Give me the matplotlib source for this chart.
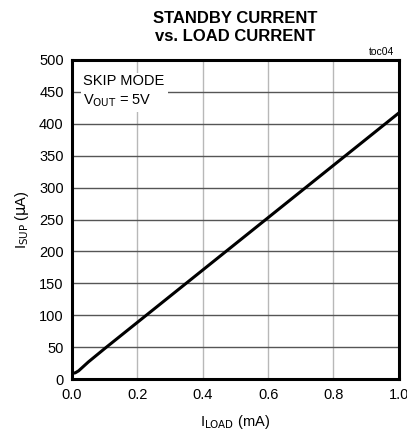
#!/usr/bin/env python3
"""Standby current vs. load current (skip mode)."""

import matplotlib
matplotlib.use("Agg")
import matplotlib.pyplot as plt

# load current (mA) and supply current (uA)
i_load = [0.0, 0.01, 0.02, 0.05, 0.1, 0.2, 0.3, 0.4, 0.5, 0.6, 0.7, 0.8, 0.9, 1.0]
i_sup = [9, 10, 13, 27, 48, 89, 130, 171, 212, 253, 294, 335, 376, 417]

x_ticks = [0.0, 0.2, 0.4, 0.6, 0.8, 1.0]
y_ticks = [0, 50, 100, 150, 200, 250, 300, 350, 400, 450, 500]

plt.rcParams["font.family"] = ["Liberation Sans Narrow", "Liberation Sans", "DejaVu Sans"]
plt.rcParams["mathtext.fontset"] = "custom"
plt.rcParams["mathtext.rm"] = "Liberation Sans Narrow"
plt.rcParams["mathtext.it"] = "Liberation Sans Narrow"

fig = plt.figure(figsize=(4.07, 4.44), dpi=100)
ax = fig.add_axes([0.177, 0.146, 0.803, 0.719])

ax.plot(i_load, i_sup, color="black", linewidth=2.2, zorder=3, solid_capstyle="butt")

ax.set_xlim(0, 1.0)
ax.set_ylim(0, 500)
ax.set_xticks(x_ticks)
ax.set_yticks(y_ticks)
ax.set_xticklabels([f"{v:.1f}" for v in x_ticks], fontsize=10.5)
ax.set_yticklabels([str(v) for v in y_ticks], fontsize=10.5)
ax.tick_params(length=0, pad=6)

ax.xaxis.grid(True, color="#b8b8b8", linewidth=1.0)
ax.yaxis.grid(True, color="#555555", linewidth=1.0)
ax.set_axisbelow(True)
for sp in ax.spines.values():
    sp.set_linewidth(2.2)

ax.set_xlabel(r"I$_{\rm LOAD}$ (mA)", fontsize=10.5, labelpad=8)
ax.set_ylabel(r"I$_{\rm SUP}$ ($\mu$A)", fontsize=10.5, labelpad=6)

fig.text(0.578, 0.975, "STANDBY CURRENT\nvs. LOAD CURRENT", ha="center", va="top",
         fontsize=12, fontweight="bold", linespacing=1.25)
fig.text(0.968, 0.872, "toc04", ha="right", va="bottom", fontsize=7.5)

ax.text(0.035, 0.955, "SKIP MODE\n" + r"V$_{\rm OUT}$ = 5V", transform=ax.transAxes,
        ha="left", va="top", fontsize=10.5, linespacing=1.3, zorder=4,
        bbox={"boxstyle": "square,pad=0.2", "facecolor": "white", "edgecolor": "none"})

fig.savefig("out.png", dpi=100)
